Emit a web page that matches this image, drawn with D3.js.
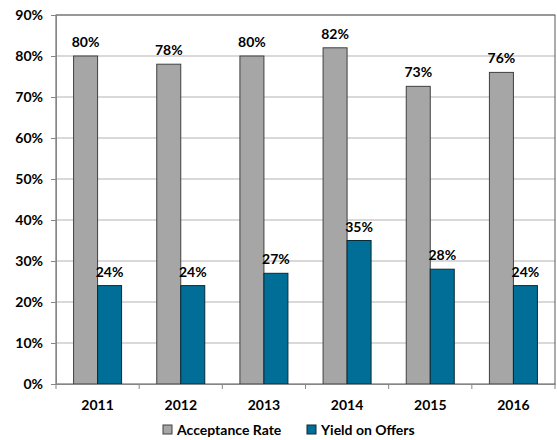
<!DOCTYPE html>
<html>
<head>
<meta charset="utf-8">
<script src="https://cdn.jsdelivr.net/npm/d3@7"></script>
<style>
body { margin: 0; background: #fff; }
text { font-family: Lato, "Open Sans", sans-serif; font-weight: bold; fill: #000; }
</style>
</head>
<body>
<div id="chart"></div>
<script>
var years = ["2011", "2012", "2013", "2014", "2015", "2016"];
var acceptance = [80, 78, 80, 82, 72.6, 76];
var yieldOffers = [24, 24, 27, 35, 28, 24];
var keys = ["Acceptance Rate", "Yield on Offers"];
var yTicks = [0, 10, 20, 30, 40, 50, 60, 70, 80, 90];

var width = 557, height = 440;
var plotL = 56, plotR = 555, plotT = 15, plotB = 384;
var fs = 14;

var svg = d3.select("#chart").append("svg")
    .attr("width", width)
    .attr("height", height);

var data = years.map(function(yr, i) {
  return {year: yr, values: [acceptance[i], yieldOffers[i]]};
});

var x0 = d3.scaleBand()
    .domain(years)
    .range([plotL, plotR])
    .paddingInner(0)
    .paddingOuter(0);

var x1 = d3.scaleBand()
    .domain(keys)
    .range([0, 48]);

var y = d3.scaleLinear()
    .domain([0, 90])
    .range([plotB, plotT]);

var z = d3.scaleOrdinal()
    .domain(keys)
    .range(["#a6a6a6", "#006e96"]);
var strokes = ["#404040", "#0a2a36"];

// gridlines
svg.append("g")
  .selectAll("line")
  .data(yTicks.slice(1))
  .enter().append("line")
    .attr("x1", plotL).attr("x2", plotR)
    .attr("y1", function(d) { return y(d); })
    .attr("y2", function(d) { return y(d); })
    .attr("stroke", "#b3b3b3")
    .attr("stroke-width", 1);

// plot border
svg.append("rect")
    .attr("x", plotL).attr("y", plotT)
    .attr("width", plotR - plotL).attr("height", plotB - plotT)
    .attr("fill", "none")
    .attr("stroke", "#595959")
    .attr("stroke-width", 1);

// bars
var groups = svg.append("g")
  .selectAll("g")
  .data(data)
  .enter().append("g")
    .attr("transform", function(d) {
      return "translate(" + (x0(d.year) + x0.bandwidth() / 2 - 24) + ",0)";
    });

groups.selectAll("rect")
  .data(function(d) { return keys.map(function(k, i) { return {key: k, i: i, value: d.values[i]}; }); })
  .enter().append("rect")
    .attr("x", function(d) { return x1(d.key); })
    .attr("y", function(d) { return y(d.value); })
    .attr("width", x1.bandwidth())
    .attr("height", function(d) { return plotB - y(d.value); })
    .attr("fill", function(d) { return z(d.key); })
    .attr("stroke", function(d) { return strokes[d.i]; })
    .attr("stroke-width", 1);

groups.selectAll("text")
  .data(function(d) { return keys.map(function(k, i) { return {key: k, value: d.values[i]}; }); })
  .enter().append("text")
    .attr("x", function(d) { return x1(d.key) + x1.bandwidth() / 2; })
    .attr("y", function(d) { return y(d.value) - 9; })
    .attr("text-anchor", "middle")
    .attr("font-size", fs)
    .text(function(d) { return Math.round(d.value) + "%"; });

// y axis
var yAxis = svg.append("g")
    .attr("transform", "translate(" + plotL + ",0)")
    .call(d3.axisLeft(y).tickValues(yTicks).tickSize(5).tickPadding(8)
      .tickFormat(function(d) { return d + "%"; }));
yAxis.select(".domain").attr("stroke", "#868686");
yAxis.selectAll(".tick line").attr("stroke", "#868686");
yAxis.selectAll("text").attr("font-size", fs).style("font-family", "Lato, sans-serif");

// x axis
var xAxis = svg.append("g")
    .attr("transform", "translate(0," + plotB + ")")
    .call(d3.axisBottom(x0).tickSize(0).tickPadding(16));
xAxis.select(".domain").attr("stroke", "#868686");
xAxis.selectAll("text").attr("font-size", fs).style("font-family", "Lato, sans-serif");
svg.append("g")
  .selectAll("line")
  .data(years.concat(["end"]))
  .enter().append("line")
    .attr("x1", function(d, i) { return plotL + i * x0.step(); })
    .attr("x2", function(d, i) { return plotL + i * x0.step(); })
    .attr("y1", plotB).attr("y2", plotB + 5)
    .attr("stroke", "#868686");

// legend
var legendX = [163, 307];
var legend = svg.append("g")
  .selectAll("g")
  .data(keys)
  .enter().append("g")
    .attr("transform", function(d, i) { return "translate(" + legendX[i] + ",425)"; });

legend.append("rect")
    .attr("width", 9).attr("height", 9)
    .attr("fill", z)
    .attr("stroke", function(d, i) { return strokes[i]; });

legend.append("text")
    .attr("x", 14)
    .attr("y", 5)
    .attr("dy", "0.35em")
    .attr("font-size", fs)
    .text(function(d) { return d; });
</script>
</body>
</html>
